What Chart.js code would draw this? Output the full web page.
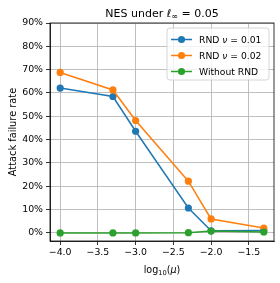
<!DOCTYPE html>
<html>
<head>
<meta charset="utf-8">
<script src="https://cdn.jsdelivr.net/npm/chart.js@4/dist/chart.umd.min.js"></script>
<style>
  html, body { margin: 0; padding: 0; background: #fff; }
  #wrap { width: 280px; height: 283px; }
</style>
</head>
<body>
<div id="wrap"><canvas id="chart" width="280" height="283"></canvas></div>
<script>
let X_VALS = [-4.0, -3.301, -3.0, -2.301, -2.0, -1.301];
let RND_001 = [62.1, 58.5, 43.6, 10.7, 0.9, 1.0];
let RND_002 = [68.8, 61.3, 48.2, 22.2, 6.0, 2.1];
let NO_RND = [0.0, 0.0, 0.0, 0.1, 0.8, 0.4];
let X_TICKS = [-4.0, -3.5, -3.0, -2.5, -2.0, -1.5];
let Y_TICKS = [0, 10, 20, 30, 40, 50, 60, 70, 80, 90];
let LEGEND_NU = ['0.01', '0.02'];

const BLUE = '#1f77b4', ORANGE = '#ff7f0e', GREEN = '#2ca02c';
const FONT = 'DejaVu Sans';

function pts(ys) {
    return X_VALS.map((x, i) => ({x: x, y: ys[i]}));
}

function ds(label, ys, color, order) {
    return {
        label: label,
        data: pts(ys),
        borderColor: color,
        backgroundColor: color,
        borderWidth: 1.5,
        pointRadius: 3.6,
        pointHoverRadius: 3.6,
        pointBorderWidth: 0,
        order: order
    };
}

// draws pieces of text one after another, each with its own font
function drawRuns(ctx, runs, cx, y) {
    let w = 0;
    runs.forEach(r => { ctx.font = r.font; w += ctx.measureText(r.t).width; });
    let x = cx - w / 2;
    runs.forEach(r => {
        ctx.font = r.font;
        ctx.fillText(r.t, x, y + (r.dy || 0));
        x += ctx.measureText(r.t).width;
    });
}

const extras = {
    id: 'extras',
    afterDraw(chart) {
        const ctx = chart.ctx;
        const a = chart.chartArea;
        ctx.save();
        // frame
        ctx.strokeStyle = '#000';
        ctx.lineWidth = 0.8;
        ctx.strokeRect(a.left, a.top, a.right - a.left, a.bottom - a.top);

        ctx.fillStyle = '#000';
        ctx.textBaseline = 'alphabetic';
        ctx.textAlign = 'left';
        const cx = (a.left + a.right) / 2;

        // title
        drawRuns(ctx, [
            {t: 'NES under ', font: '11px ' + FONT},
            {t: 'ℓ', font: 'italic 11px ' + FONT},
            {t: '∞', font: '8px ' + FONT, dy: 2},
            {t: ' = 0.05', font: '11px ' + FONT}
        ], cx, 17);

        // x label
        drawRuns(ctx, [
            {t: 'log', font: '9.6px ' + FONT},
            {t: '10', font: '6.7px ' + FONT, dy: 1.5},
            {t: '(', font: '9.6px ' + FONT},
            {t: 'μ', font: 'italic 9.6px ' + FONT},
            {t: ')', font: '9.6px ' + FONT}
        ], cx, 273);

        // y label
        ctx.save();
        ctx.translate(16, (a.top + a.bottom) / 2);
        ctx.rotate(-Math.PI / 2);
        ctx.font = '9.8px ' + FONT;
        ctx.textAlign = 'center';
        ctx.fillText('Attack failure rate', 0, 0);
        ctx.restore();

        // legend
        const bx = 167, by = 28, bw = 102, bh = 52;
        ctx.beginPath();
        ctx.roundRect(bx, by, bw, bh, 3);
        ctx.fillStyle = 'rgba(255,255,255,0.8)';
        ctx.fill();
        ctx.strokeStyle = '#cccccc';
        ctx.lineWidth = 0.8;
        ctx.stroke();

        const rows = [
            {c: BLUE, runs: [{t: 'RND ', font: '9.2px ' + FONT}, {t: 'ν', font: 'italic 9.2px ' + FONT}, {t: ' = ' + LEGEND_NU[0], font: '9.2px ' + FONT}]},
            {c: ORANGE, runs: [{t: 'RND ', font: '9.2px ' + FONT}, {t: 'ν', font: 'italic 9.2px ' + FONT}, {t: ' = ' + LEGEND_NU[1], font: '9.2px ' + FONT}]},
            {c: GREEN, runs: [{t: 'Without RND', font: '9.2px ' + FONT}]}
        ];
        rows.forEach((r, i) => {
            const y = 39.5 + i * 16;
            ctx.strokeStyle = r.c;
            ctx.lineWidth = 1.5;
            ctx.beginPath();
            ctx.moveTo(171, y);
            ctx.lineTo(192, y);
            ctx.stroke();
            ctx.fillStyle = r.c;
            ctx.beginPath();
            ctx.arc(181.5, y, 3.6, 0, Math.PI * 2);
            ctx.fill();
            ctx.fillStyle = '#000';
            let x = 199;
            r.runs.forEach(p => {
                ctx.font = p.font;
                ctx.fillText(p.t, x, y + 3.3);
                x += ctx.measureText(p.t).width;
            });
        });
        ctx.restore();
    }
};

function initChart() {
    const ctx = document.getElementById('chart').getContext('2d');
    return new Chart(ctx, {
        type: 'line',
        data: {
            datasets: [
                ds('RND ν = 0.01', RND_001, BLUE, 2),
                ds('RND ν = 0.02', RND_002, ORANGE, 1),
                ds('Without RND', NO_RND, GREEN, 0)
            ]
        },
        options: {
            responsive: false,
            animation: false,
            layout: { padding: { top: 23, right: 6, left: 0, bottom: 0 } },
            plugins: { legend: { display: false }, tooltip: { enabled: false } },
            scales: {
                x: {
                    type: 'linear',
                    min: -4.135,
                    max: -1.166,
                    afterBuildTicks: s => { s.ticks = X_TICKS.map(v => ({value: v})); },
                    afterFit: s => { s.height = 42; },
                    ticks: {
                        color: '#000',
                        font: { family: FONT, size: 9.4 },
                        padding: 2,
                        maxRotation: 0,
                        callback: v => v.toFixed(1).replace('-', '−')
                    },
                    grid: { color: '#b0b0b0', lineWidth: 0.8, tickColor: '#000', tickLength: 4 },
                    border: { color: '#000', width: 0.8 }
                },
                y: {
                    min: -3.45,
                    max: 90,
                    afterBuildTicks: s => { s.ticks = Y_TICKS.map(v => ({value: v})); },
                    afterFit: s => { s.width = 50; },
                    ticks: {
                        color: '#000',
                        font: { family: FONT, size: 9.4 },
                        padding: 3,
                        callback: v => v + '%'
                    },
                    grid: { color: '#b0b0b0', lineWidth: 0.8, tickColor: '#000', tickLength: 4 },
                    border: { color: '#000', width: 0.8 }
                }
            }
        },
        plugins: [extras]
    });
}

initChart();
</script>
</body>
</html>
